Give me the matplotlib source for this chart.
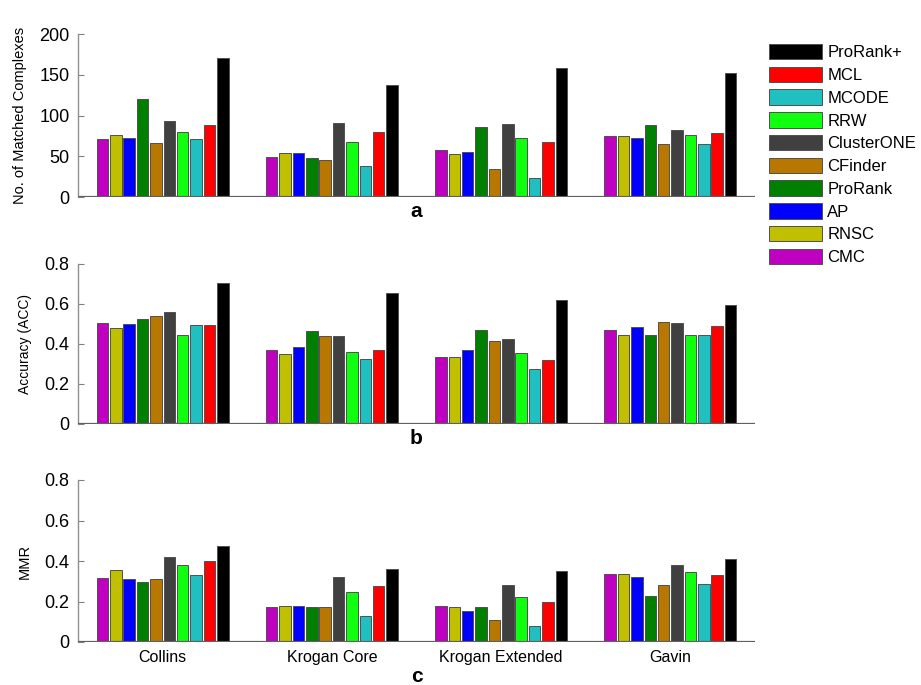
import numpy as np
import matplotlib
matplotlib.use("Agg")
import matplotlib.pyplot as plt

plt.rcParams['font.family'] = ['Liberation Sans', 'DejaVu Sans']

# datasets and methods (bar order left to right)
datasets = ["Collins", "Krogan Core", "Krogan Extended", "Gavin"]
methods = ["CMC", "RNSC", "AP", "ProRank", "CFinder", "ClusterONE",
           "RRW", "MCODE", "MCL", "ProRank+"]
colors = ["#c000c0", "#c0c000", "#0000ff", "#007f00", "#b87800", "#404040",
          "#10ff10", "#20c0c0", "#ff0000", "#000000"]

# No. of matched complexes, one row per dataset
matched = [
    [71, 76, 73, 120, 66, 93, 80, 71, 88, 171],
    [49, 54, 54, 48, 46, 91, 68, 38, 80, 137],
    [58, 53, 55, 86, 34, 90, 73, 23, 67, 158],
    [75, 75, 72, 88, 65, 82, 76, 65, 78, 152],
]

# Accuracy (ACC)
accuracy = [
    [0.505, 0.478, 0.500, 0.523, 0.540, 0.560, 0.445, 0.496, 0.496, 0.706],
    [0.369, 0.348, 0.386, 0.465, 0.441, 0.438, 0.361, 0.326, 0.369, 0.656],
    [0.333, 0.333, 0.368, 0.472, 0.415, 0.427, 0.354, 0.276, 0.318, 0.618],
    [0.472, 0.446, 0.486, 0.446, 0.508, 0.503, 0.446, 0.446, 0.490, 0.594],
]

# MMR
mmr = [
    [0.317, 0.357, 0.313, 0.297, 0.313, 0.420, 0.378, 0.333, 0.400, 0.473],
    [0.175, 0.179, 0.179, 0.172, 0.172, 0.321, 0.247, 0.128, 0.275, 0.359],
    [0.179, 0.172, 0.153, 0.173, 0.110, 0.283, 0.222, 0.078, 0.196, 0.350],
    [0.338, 0.338, 0.322, 0.229, 0.280, 0.378, 0.348, 0.285, 0.332, 0.409],
]

W, H = 921, 685
fig = plt.figure(figsize=(W / 100, H / 100), dpi=100)


def px_axes(left, right, top, bottom):
    return fig.add_axes([left / W, 1 - bottom / H, (right - left) / W, (bottom - top) / H])


def draw_panel(ax, data, ylim, yticks, ylabel, letter, ylabel_size, show_x=False):
    data = np.array(data)
    x = np.arange(1, len(datasets) + 1)
    pitch = 0.079
    offsets = (np.arange(len(methods)) - (len(methods) - 1) / 2) * pitch
    bars = []
    for j, m in enumerate(methods):
        b = ax.bar(x + offsets[j], data[:, j], width=pitch * 0.86, color=colors[j],
                   edgecolor="#505050", linewidth=0.7, label=m, zorder=2)
        bars.append(b)
    ax.set_xlim(0.5, 4.5)
    ax.set_ylim(*ylim)
    ax.set_yticks(yticks)
    ax.set_yticklabels([f"{t:g}" for t in yticks], fontsize=13)
    ax.tick_params(axis='y', direction='in', length=4, color="#808080", pad=6)
    ax.axhline(0, color="#606060", linewidth=1.6, zorder=3)
    for s in ["top", "right", "bottom"]:
        ax.spines[s].set_visible(False)
    ax.spines["left"].set_color("#909090")
    ax.spines["left"].set_linewidth(1.0)
    ax.set_ylabel(ylabel, fontsize=ylabel_size, labelpad=9)
    ax.set_xticks(x)
    if show_x:
        ax.set_xticklabels(datasets, fontsize=11.5)
        ax.tick_params(axis='x', length=0, pad=6)
    else:
        ax.set_xticklabels([])
        ax.tick_params(axis='x', length=0)
    ax.set_xlabel(letter, fontsize=15, fontweight='bold', labelpad=0 if not show_x else 1)
    return bars


ax_a = px_axes(78, 755, 34, 197)
bars = draw_panel(ax_a, matched, (0, 200), [0, 50, 100, 150, 200],
                  "No. of Matched Complexes", "a", 10.5)

ax_b = px_axes(78, 755, 264, 424)
draw_panel(ax_b, accuracy, (0, 0.8), [0, 0.2, 0.4, 0.6, 0.8],
           "Accuracy (ACC)", "b", 10)

ax_c = px_axes(78, 755, 480, 642)
draw_panel(ax_c, mmr, (0, 0.8), [0, 0.2, 0.4, 0.6, 0.8],
           "MMR", "c", 10.5, show_x=True)

# legend lists methods in reverse order
handles = [b[0] for b in bars][::-1]
labels = methods[::-1]
fig.legend(handles, labels, loc="upper left", bbox_to_anchor=(769 / W, 1 - 44 / H),
           frameon=False, fontsize=12, borderpad=0, borderaxespad=0,
           handlelength=3.2, handleheight=1.05, labelspacing=0.38, handletextpad=0.3)

fig.savefig("out.png", dpi=100)
